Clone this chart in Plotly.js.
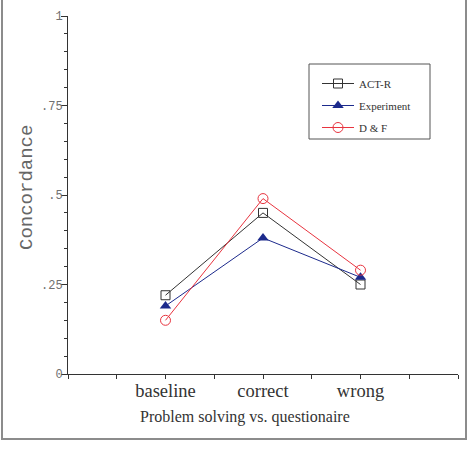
<!DOCTYPE html>
<html>
<head>
<meta charset="utf-8">
<script src="https://cdn.plot.ly/plotly-3.0.1.min.js"></script>
<style>
  html, body { margin: 0; padding: 0; background: #fff; }
  #chart { position: absolute; left: 0; top: 0; width: 470px; height: 450px; }
  #frame { position: absolute; left: 1px; top: -3px; width: 466px; height: 443px;
           box-sizing: border-box; border: 2px solid #8c8c8c; pointer-events: none; }
</style>
</head>
<body>
<div id="chart"></div>
<div id="frame"></div>
<script>
// Conditions on the x axis
const categories = ['baseline', 'correct', 'wrong'];

// Concordance per condition
const actrValues = [0.22, 0.45, 0.25];
const experimentValues = [0.19, 0.38, 0.27];
const dfValues = [0.15, 0.49, 0.29];

// Y-axis labels
const yTickVals = [0, 0.25, 0.5, 0.75, 1];
const yTickText = ['0', '.25', '.5', '.75', '1'];

const xPos = categories.map((_, i) => i + 1);

const serif = 'Liberation Serif, Times New Roman, serif';
const mono = 'Liberation Mono, Courier New, monospace';

// plot area in pixels: left 68, right 458, top 16, bottom 374
const px = (v) => (v - 68) / 390;
const py = (v) => (374 - v) / 358;

const traces = [
  {
    name: 'ACT-R', legendgroup: 'a', x: xPos, y: actrValues, mode: 'lines+markers',
    line: { color: '#333333', width: 1 },
    marker: { symbol: 'square-open', size: 9, color: '#333333', line: { width: 1 } }
  },
  {
    name: 'Experiment', legendgroup: 'b', x: xPos, y: experimentValues, mode: 'lines+markers',
    line: { color: '#1c2a8c', width: 1 },
    marker: { symbol: 'triangle-up', size: 10, color: '#1c2a8c' }
  },
  {
    name: 'D & F', legendgroup: 'c', x: xPos, y: dfValues, mode: 'lines+markers',
    line: { color: '#e8343f', width: 1 },
    marker: { symbol: 'circle-open', size: 10, color: '#e8343f', line: { width: 1 } }
  }
];

const layout = {
  width: 470, height: 450,
  margin: { l: 68, r: 12, t: 16, b: 76 },
  paper_bgcolor: '#ffffff', plot_bgcolor: '#ffffff',
  showlegend: true,
  legend: {
    x: px(317), y: py(69), xanchor: 'left', yanchor: 'top',
    borderwidth: 0, bgcolor: 'rgba(0,0,0,0)',
    tracegroupgap: 3, itemwidth: 32,
    font: { family: serif, size: 11, color: '#333333' }
  },
  xaxis: {
    range: [0, 4], showgrid: false, zeroline: false,
    showline: true, linecolor: '#333333', linewidth: 1,
    tickmode: 'array', tickvals: xPos, ticktext: categories,
    ticks: 'outside', ticklen: 4, tickcolor: '#333333',
    minor: { tick0: 0, dtick: 0.5, ticks: 'outside', ticklen: 4, tickcolor: '#333333' },
    tickfont: { family: serif, size: 18.5, color: '#333333' },
    ticklabelstandoff: -4,
    fixedrange: true
  },
  yaxis: {
    range: [0, 1], showgrid: false, zeroline: false,
    showline: true, linecolor: '#333333', linewidth: 1,
    tickmode: 'array', tickvals: yTickVals, ticktext: yTickText,
    ticks: 'outside', ticklen: 6, tickcolor: '#333333',
    minor: { tick0: 0, dtick: 0.05, ticks: 'outside', ticklen: 3, tickcolor: '#333333' },
    tickfont: { family: mono, size: 12, color: '#707070' },
    ticklabelstandoff: -4,
    fixedrange: true
  },
  shapes: [
    {
      type: 'rect', xref: 'paper', yref: 'paper',
      x0: px(309), x1: px(430), y0: py(139), y1: py(64),
      line: { color: '#555555', width: 1 }, fillcolor: 'rgba(0,0,0,0)'
    }
  ],
  annotations: [
    {
      text: 'Concordance', textangle: -90,
      xref: 'paper', yref: 'paper', x: px(27), y: py(188),
      xanchor: 'center', yanchor: 'middle', showarrow: false,
      font: { family: mono, size: 19, color: '#666666' }
    },
    {
      text: 'Problem solving vs. questionaire',
      xref: 'paper', yref: 'paper', x: px(245), y: py(417),
      xanchor: 'center', yanchor: 'middle', showarrow: false,
      font: { family: serif, size: 16, color: '#333333' }
    }
  ]
};

Plotly.newPlot('chart', traces, layout, { displayModeBar: false, staticPlot: true });
</script>
</body>
</html>
